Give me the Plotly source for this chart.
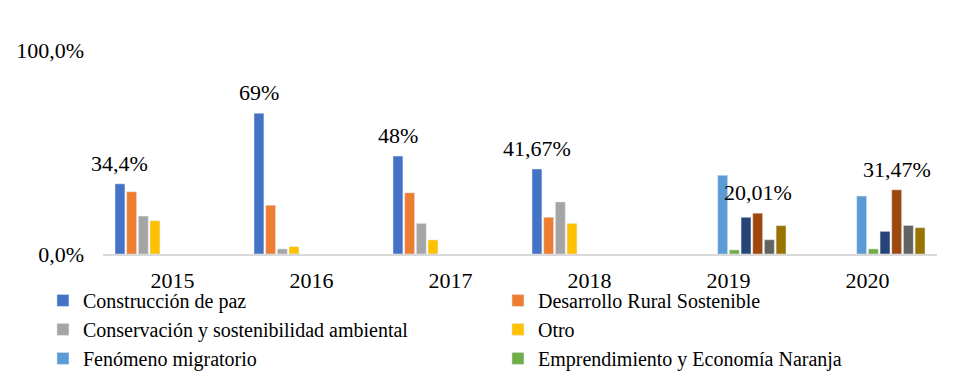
import plotly.graph_objects as go

years = ["2015", "2016", "2017", "2018", "2019", "2020"]

construccion = [34.4, 69.0, 48.0, 41.67, None, None]
desarrollo = [30.5, 23.9, 30.0, 18.0, None, None]
conservacion = [18.6, 2.5, 15.0, 25.5, None, None]
otro = [16.3, 3.6, 6.9, 15.0, None, None]
fenomeno = [None, None, None, None, 38.6, 28.4]
emprendimiento = [None, None, None, None, 2.0, 2.5]
serie7 = [None, None, None, None, 18.0, 11.1]
serie8 = [None, None, None, None, 20.01, 31.47]
serie9 = [None, None, None, None, 7.0, 14.0]
serie10 = [None, None, None, None, 13.9, 12.9]

construccion_labels = ["34,4%", "69%", "48%", "41,67%", "", ""]
serie8_labels = ["", "", "", "", "20,01%", "31,47%"]

y_tick_values = [0, 100]
y_tick_labels = ["0,0%", "100,0%"]

series = [
    ("Construcción de paz", construccion, "#4472C4", True, construccion_labels),
    ("Desarrollo Rural Sostenible", desarrollo, "#ED7D31", True, None),
    ("Conservación y sostenibilidad ambiental", conservacion, "#A5A5A5", True, None),
    ("Otro", otro, "#FFC000", True, None),
    ("Fenómeno migratorio", fenomeno, "#5B9BD5", True, None),
    ("Emprendimiento y Economía Naranja", emprendimiento, "#70AD47", True, None),
    ("Serie 7", serie7, "#264478", False, None),
    ("Serie 8", serie8, "#9E480E", False, serie8_labels),
    ("Serie 9", serie9, "#636363", False, None),
    ("Serie 10", serie10, "#997300", False, None),
]

FONT = "Liberation Serif, Times New Roman, serif"
BARGAP = 0.16
N = len(series)

fig = go.Figure()
annotations = []
for s, (name, vals, color, show, labels) in enumerate(series):
    fig.add_trace(go.Bar(x=years, y=vals, name=name, marker_color=color,
                         showlegend=show))
    if labels is not None:
        # label centred over this series' slot within each category group
        offset = -(1 - BARGAP) / 2 + (s + 0.5) * (1 - BARGAP) / N
        for i, (v, t) in enumerate(zip(vals, labels)):
            if v is not None and t:
                annotations.append(dict(x=i + offset, y=v, xref="x", yref="y",
                                        text=t, showarrow=False, yanchor="bottom",
                                        yshift=6,
                                        font=dict(family=FONT, size=22, color="black")))

fig.update_layout(
    width=969, height=387,
    margin=dict(l=95, r=40, t=42, b=141, autoexpand=False),
    paper_bgcolor="white", plot_bgcolor="white",
    barmode="group", bargap=BARGAP, bargroupgap=0.15,
    font=dict(family=FONT, size=22, color="black"),
    showlegend=True,
    annotations=annotations,
    legend=dict(orientation="h", x=-0.072, xanchor="left", y=-0.132, yanchor="top",
                entrywidth=410, entrywidthmode="pixels", itemwidth=30,
                tracegroupgap=0, font=dict(family=FONT, size=20, color="black"),
                bgcolor="rgba(0,0,0,0)"),
)
fig.update_xaxes(type="category", range=[-0.5, len(years) - 0.5],
                 showline=True, linecolor="#D9D9D9", linewidth=2,
                 showgrid=False, ticks="", ticklabelstandoff=6)
fig.update_yaxes(range=[0, 100], tickvals=y_tick_values, ticktext=y_tick_labels,
                 showgrid=False, zeroline=False, showline=False, ticks="",
                 ticklabelstandoff=18)

fig.write_html("out.html")
